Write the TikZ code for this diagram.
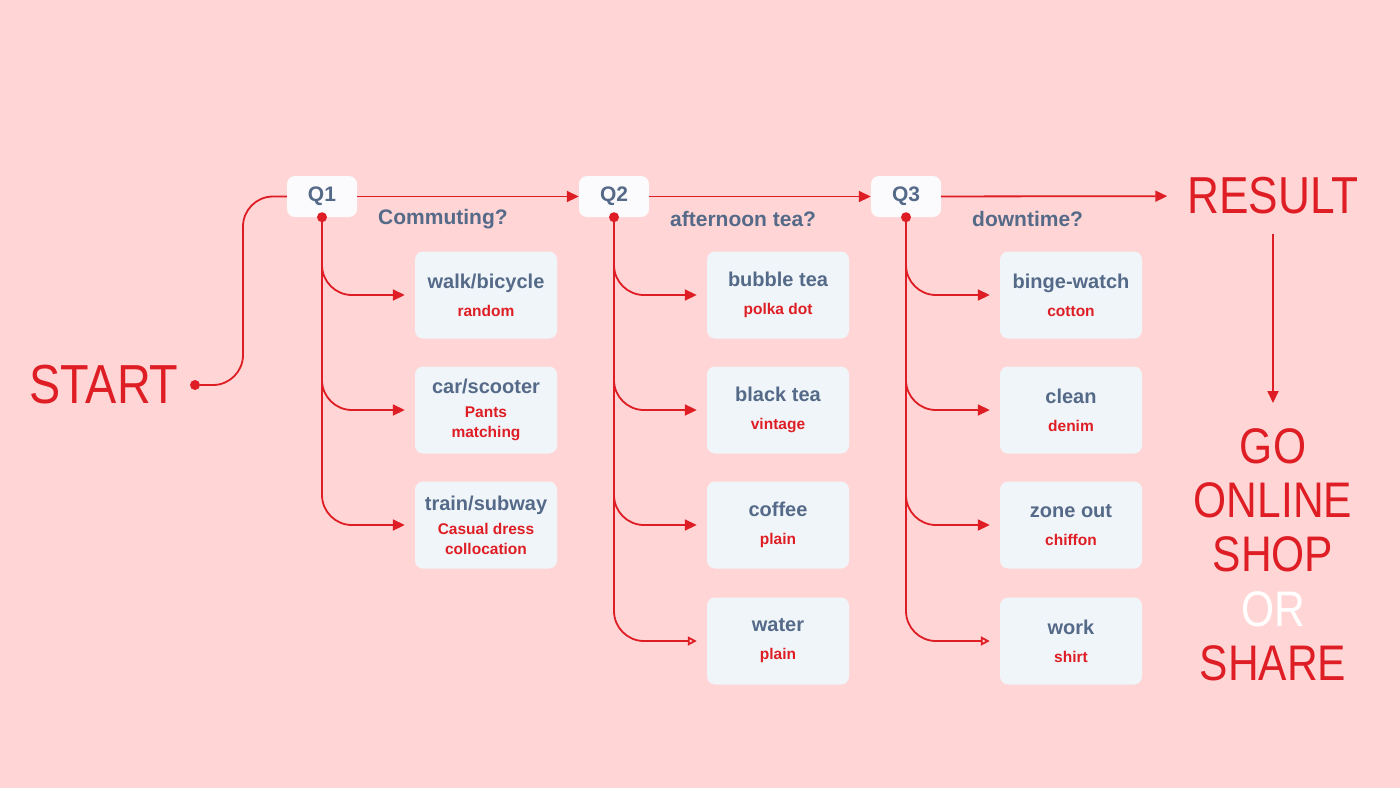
\documentclass[tikz,border=0pt]{standalone}
\usepackage{fontspec}
\setmainfont{Liberation Sans}
\newfontfamily\bigfont[FakeStretch=0.85]{Liberation Sans}
\usetikzlibrary{arrows.meta,positioning}
\definecolor{bgpink}{RGB}{255,213,213}
\definecolor{flowred}{RGB}{222,30,36}
\definecolor{slate}{RGB}{84,106,136}
\definecolor{qwhite}{RGB}{251,251,253}
\definecolor{boxfill}{RGB}{240,245,249}

\begin{document}
\begin{tikzpicture}[
    x=1pt,
    y=-1pt,
    qbox/.style={
      fill=qwhite,
      rounded corners=8pt,
      minimum width=70pt,
      minimum height=41pt,
      inner sep=0,
      font=\bfseries\fontsize{21}{24}\selectfont,
      text=slate,
    },
    choicebox/.style={
      fill=boxfill,
      rounded corners=8pt,
      minimum width=142pt,
      minimum height=87pt,
      inner sep=0,
      align=center,
      font=\bfseries\fontsize{20}{24}\selectfont,
      text=slate,
    },
    question/.style={
      anchor=west,
      inner sep=0,
      font=\bfseries\fontsize{21}{24}\selectfont,
      text=slate,
    },
    bigword/.style={
      inner sep=0,
      align=center,
      font=\bigfont\fontsize{52}{54.3}\selectfont,
      text=flowred,
    },
    joint/.style={
      circle,
      fill=flowred,
      inner sep=0,
      minimum size=10pt,
    },
    wire/.style={
      line width=1.8pt,
      draw=flowred,
    },
    flow/.style={
      wire,
      -{Triangle[length=12pt,width=11pt]},
    },
    branch/.style={
      flow,
      rounded corners=30pt,
      shorten >=10pt,
    },
    lastbranch/.style={
      branch,
      -{Triangle[open,length=9pt,width=9pt]},
    },
  ]
    \newcommand\subline{\fontsize{15.5}{20}\selectfont\color{flowred}}
    \newcommand\choice[5][4pt]{%
      \node[choicebox] (#2) at (#3) {#4\\[#1]\subline #5};
    }

    \fill[bgpink] (0, 0) rectangle (1400, 788);

    \node[bigword,font=\bigfont\fontsize{55}{56}\selectfont] (start) at (104, 385) {START};
    \node[joint] (startdot) at (195, 385) {};
    \coordinate (rise) at (243, 385);

    \node[qbox] (q1) at (322, 196.5) {Q1};
    \node[qbox] (q2) at (614, 196.5) {Q2};
    \node[qbox] (q3) at (906, 196.5) {Q3};
    \node[question] (ask1) at (378, 219) {Commuting?};
    \node[question] (ask2) at (670, 219) {afternoon tea?};
    \node[question] (ask3) at (972, 219) {downtime?};

    \node[bigword] (result) at (1273, 196) {RESULT};
    \node[bigword,font=\bigfont\fontsize{50}{54.3}\selectfont,anchor=north] (goshop) at (1273, 428)
      {GO\\ONLINE\\SHOP\\\textcolor{white}{OR}\\SHARE};

    \choice{walk}{486, 295}{walk/bicycle}{random}
    \choice[0pt]{car}{486, 410}{car/scooter}{Pants\\[-4pt]\subline matching}
    \choice[0pt]{train}{486, 525}{train/subway}{Casual dress\\[-4pt]\subline collocation}

    \choice{bubble}{778, 295}{bubble tea}{polka dot}
    \choice{black}{778, 410}{black tea}{vintage}
    \choice{coffee}{778, 525}{coffee}{plain}
    \choice{water}{778, 641}{water}{plain}

    \choice{binge}{1071, 295}{binge-watch}{cotton}
    \choice{clean}{1071, 410}{clean}{denim}
    \choice{zone}{1071, 525}{zone out}{chiffon}
    \choice{work}{1071, 641}{work}{shirt}

    % main line
    \draw[wire,rounded corners=30pt] (startdot) -- (rise) |- (q1.west);
    \draw[flow] (q1) -- (q2);
    \draw[flow] (q2) -- (q3);
    \draw[flow,shorten >=20pt] (q3) -- (result);
    \draw[flow,shorten <=19pt,shorten >=25pt] (result.south) -- (goshop.north);

    \node[joint] (q1dot) at (q1.south) {};
    \node[joint] (q2dot) at (q2.south) {};
    \node[joint] (q3dot) at (q3.south) {};

    % branches
    \draw[branch] (q1dot) |- (walk.west);
    \draw[branch] (q1dot) |- (car.west);
    \draw[branch] (q1dot) |- (train.west);

    \draw[branch] (q2dot) |- (bubble.west);
    \draw[branch] (q2dot) |- (black.west);
    \draw[branch] (q2dot) |- (coffee.west);
    \draw[lastbranch] (q2dot) |- (water.west);

    \draw[branch] (q3dot) |- (binge.west);
    \draw[branch] (q3dot) |- (clean.west);
    \draw[branch] (q3dot) |- (zone.west);
    \draw[lastbranch] (q3dot) |- (work.west);
  \end{tikzpicture}
\end{document}
